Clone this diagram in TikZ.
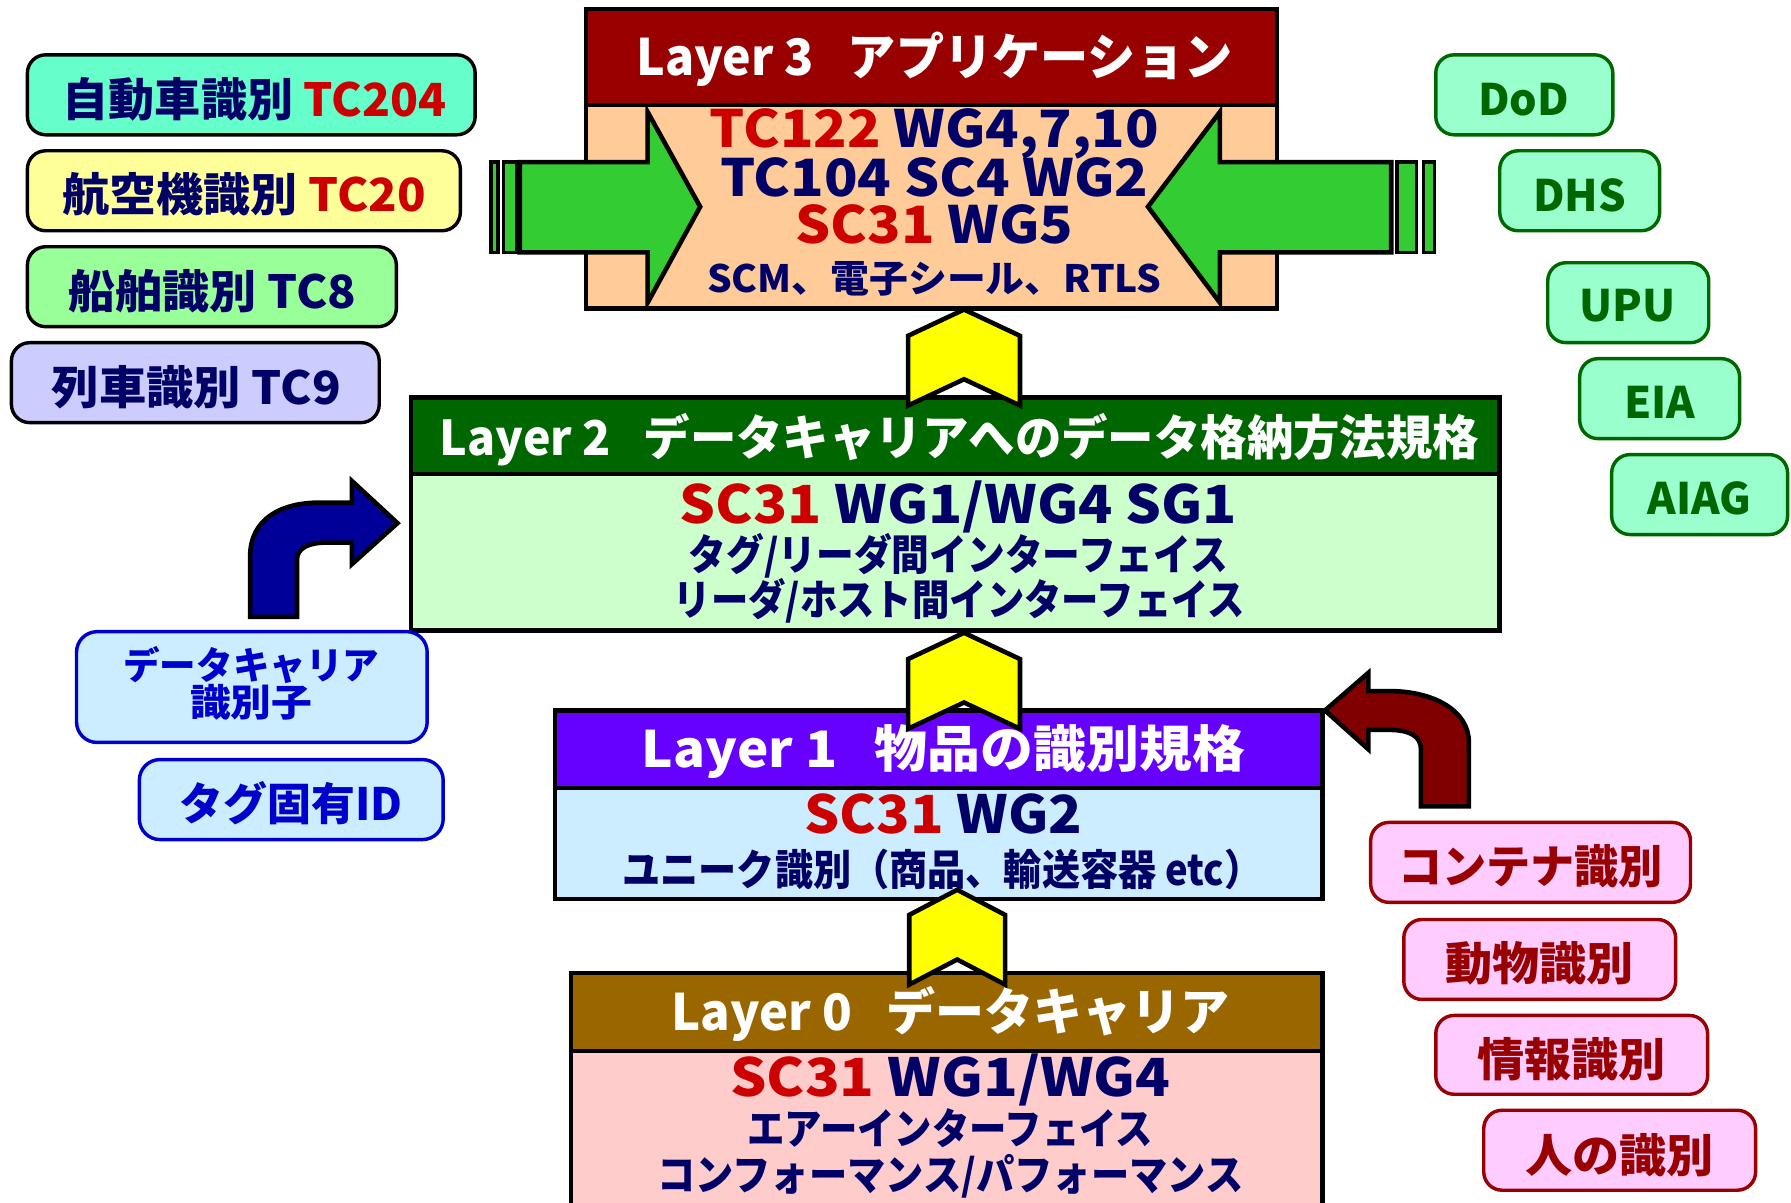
\documentclass[tikz,border=0pt]{standalone}
\usepackage{fontspec}
\setmainfont{Noto Sans CJK JP}
\usepackage{graphicx}
\definecolor{navy}{HTML}{000066}
\definecolor{tcred}{HTML}{CC0000}
\definecolor{hthree}{HTML}{990000}
\definecolor{bthree}{HTML}{FFCC99}
\definecolor{htwo}{HTML}{006600}
\definecolor{btwo}{HTML}{CCFFCC}
\definecolor{hone}{HTML}{6600FF}
\definecolor{bone}{HTML}{CCECFF}
\definecolor{hzero}{HTML}{996600}
\definecolor{bzero}{HTML}{FFCCCC}
\definecolor{agreen}{HTML}{33CC33}
\definecolor{ayellow}{HTML}{FFFF00}
\definecolor{ablue}{HTML}{000099}
\definecolor{ared}{HTML}{800000}
\definecolor{cA}{HTML}{66FFCC}
\definecolor{cB}{HTML}{FFFF99}
\definecolor{cC}{HTML}{99FF99}
\definecolor{cD}{HTML}{CCCCFF}
\definecolor{orgfill}{HTML}{99FFCC}
\definecolor{orgline}{HTML}{006600}
\definecolor{idblue}{HTML}{0000CC}
\definecolor{pinkfill}{HTML}{FFCCFF}
\definecolor{pinkline}{HTML}{990000}
\newcommand\fitw[3]{\resizebox{#1pt}{\height}{\fontsize{#2pt}{#2pt}\selectfont\bfseries #3}}
\newcommand\rd[1]{\textcolor{tcred}{#1}}
\begin{document}
\begin{tikzpicture}[x=1pt,y=-1pt,
  txt/.style={inner sep=0pt,text=navy},
  btxt/.style={inner sep=0pt,text=navy,anchor=base},
  wtxt/.style={inner sep=0pt,text=white},
  frame/.style={line width=4pt},
  divider/.style={line width=3pt},
  chev/.style={fill=ayellow,draw=black,line width=4pt,line join=miter},
  garrow/.style={fill=agreen,draw=black,line width=4pt,line join=miter},
  tcbox/.style={draw=black,line width=3pt,rounded corners=16pt},
  orgbox/.style={draw=orgline,fill=orgfill,line width=3pt,rounded corners=16pt},
  idbox/.style={draw=idblue,fill=bone,line width=3pt,rounded corners=18pt},
  pinkbox/.style={draw=pinkline,fill=pinkfill,line width=3pt,rounded corners=16pt},
  bent/.style={draw=black,line width=4pt,line join=miter}]
\useasboundingbox (0,0) rectangle (1568,1053);
\fill[white] (0,0) rectangle (1568,1053);

% ---------- Layer 3
\fill[hthree] (513,8) rectangle (1118,92);
\fill[bthree] (513,92) rectangle (1118,270);
\draw[divider] (513,92) -- (1118,92);
\draw[frame] (513,8) rectangle (1118,270);
% green arrows
\draw[garrow] (455,142) -- (567,142) -- (567,98) -- (613,181) -- (567,265) -- (567,221) -- (455,221) -- cycle;
\draw[garrow,line width=3pt] (441,142) rectangle (452,221);
\draw[garrow,line width=3pt] (430,142) rectangle (436,221);
\draw[garrow] (1218,142) -- (1068,142) -- (1068,98) -- (1005,181) -- (1068,265) -- (1068,221) -- (1218,221) -- cycle;
\draw[garrow,line width=3pt] (1223,142) rectangle (1240,221);
\draw[garrow,line width=3pt] (1246,142) rectangle (1256,221);
\node[wtxt] (l3h) at (818,52) {\fitw{522}{44}{Layer 3\hspace{0.7em}アプリケーション}};
\node[btxt] (l3a) at (818,129) {\fitw{393}{45}{\rd{TC122} WG4,7,10}};
\node[btxt] (l3b) at (818,172) {\fitw{375}{45}{TC104 SC4 WG2}};
\node[btxt] (l3c) at (818,213) {\fitw{243}{45}{\rd{SC31} WG5}};
\node[txt] (l3d) at (818,244) {\fitw{398}{33}{SCM、電子シール、RTLS}};

% ---------- Layer 2
\fill[htwo] (360,348) rectangle (1313,415);
\fill[btwo] (360,415) rectangle (1313,552);
\draw[divider] (360,415) -- (1313,415);
\draw[frame] (360,348) rectangle (1313,552);
\node[wtxt] (l2h) at (840,385) {\fitw{910}{42}{Layer 2\hspace{0.7em}データキャリアへのデータ格納方法規格}};
\node[btxt] (l2a) at (839,458) {\fitw{488}{46}{\rd{SC31} WG1/WG4 SG1}};
\node[txt] (l2b) at (839,487) {\fitw{472}{37}{タグ/リーダ間インターフェイス}};
\node[txt] (l2c) at (840,526) {\fitw{500}{37}{リーダ/ホスト間インターフェイス}};

% ---------- Layer 1
\fill[hone] (486,622) rectangle (1158,690);
\fill[bone] (486,690) rectangle (1158,787);
\draw[divider] (486,690) -- (1158,690);
\draw[frame] (486,622) rectangle (1158,787);
\node[wtxt] (l1h) at (826,658) {\fitw{528}{44}{Layer 1\hspace{0.7em}物品の識別規格}};
\node[btxt] (l1a) at (826,730) {\fitw{243}{46}{\rd{SC31} WG2}};
\node[txt] (l1b) at (825,761) {\fitw{560}{37}{ユニーク識別（商品、輸送容器 etc）}};

% ---------- Layer 0
\fill[hzero] (500,852) rectangle (1158,920);
\fill[bzero] (500,920) rectangle (1158,1070);
\draw[divider] (500,920) -- (1158,920);
\draw[frame] (500,852) -- (500,1070) (1158,852) -- (1158,1070) (498,852) -- (1160,852);
\node[wtxt] (l0h) at (832,888) {\fitw{489}{44}{Layer 0\hspace{0.7em}データキャリア}};
\node[btxt] (l0a) at (832,960) {\fitw{385}{46}{\rd{SC31} WG1/WG4}};
\node[txt] (l0b) at (832,988) {\fitw{355}{37}{エアーインターフェイス}};
\node[txt] (l0c) at (832,1030) {\fitw{513}{37}{コンフォーマンス/パフォーマンス}};

% ---------- chevrons
\draw[chev] (795,294) -- (844,271) -- (893,294) -- (893,355) -- (844,332) -- (795,355) -- cycle;
\draw[chev] (795,577) -- (844,554) -- (893,577) -- (893,638) -- (844,615) -- (795,638) -- cycle;
\draw[chev] (796,801) -- (838,779) -- (880,801) -- (880,862) -- (838,840) -- (796,862) -- cycle;

% ---------- left TC boxes
\draw[tcbox,fill=cA] (24,48) rectangle (416,118);
\node[txt] (tcA) at (223,87) {\fitw{336}{40}{自動車識別 \rd{TC204}}};
\draw[tcbox,fill=cB] (24,132) rectangle (403,202);
\node[txt] (tcB) at (214,170) {\fitw{318}{40}{航空機識別 \rd{TC20}}};
\draw[tcbox,fill=cC] (24,216) rectangle (347,286);
\node[txt] (tcC) at (186,255) {\fitw{252}{40}{船舶識別 TC8}};
\draw[tcbox,fill=cD] (10,300) rectangle (332,370);
\node[txt] (tcD) at (172,339) {\fitw{253}{40}{列車識別 TC9}};

% ---------- right organisation boxes
\draw[orgbox] (1257,48) rectangle (1412,118);
\node[inner sep=0pt,text=orgline,font=\fontsize{38pt}{38pt}\selectfont\bfseries] (dod) at (1334,87) {DoD};
\draw[orgbox] (1313,132) rectangle (1453,202);
\node[inner sep=0pt,text=orgline,font=\fontsize{38pt}{38pt}\selectfont\bfseries] (dhs) at (1383,171) {DHS};
\draw[orgbox] (1355,230) rectangle (1496,300);
\node[inner sep=0pt,text=orgline,font=\fontsize{38pt}{38pt}\selectfont\bfseries] (upu) at (1425,268) {UPU};
\draw[orgbox] (1383,314) rectangle (1523,384);
\node[inner sep=0pt,text=orgline,font=\fontsize{38pt}{38pt}\selectfont\bfseries] (eia) at (1453,352) {EIA};
\draw[orgbox] (1411,398) rectangle (1565,468);
\node[inner sep=0pt,text=orgline,font=\fontsize{38pt}{38pt}\selectfont\bfseries] (aiag) at (1488,436) {AIAG};

% ---------- blue bent arrow and id boxes
\draw[bent,fill=ablue] (219,540) -- (219,487) .. controls (219,455) and (245,440) .. (280,440) -- (308,440) -- (308,421) -- (348,458) -- (308,494) -- (308,475) -- (286,475) .. controls (270,475) and (260,480) .. (260,490) -- (260,540) -- cycle;
\draw[idbox] (67,553) rectangle (374,650);
\node[inner sep=0pt,text=idblue] (dcid) at (220,582) {\fitw{224}{33}{データキャリア}};
\node[inner sep=0pt,text=idblue] (dcid2) at (220,615) {\fitw{107}{33}{識別子}};
\draw[idbox] (122,665) rectangle (388,735);
\node[inner sep=0pt,text=idblue] (tagid) at (255,703) {\fitw{195}{39}{タグ固有ID}};

% ---------- dark red bent arrow and pink boxes
\draw[bent,fill=ared] (1286,706) -- (1286,650) .. controls (1286,622) and (1255,605) .. (1216,605) -- (1198,605) -- (1198,589) -- (1160,622) -- (1198,656) -- (1198,639) -- (1216,639) .. controls (1235,639) and (1244,645) .. (1244,656) -- (1244,706) -- cycle;
\draw[pinkbox] (1200,720) rectangle (1480,790);
\node[inner sep=0pt,text=pinkline] (cont) at (1340,758) {\fitw{232}{40}{コンテナ識別}};
\draw[pinkbox] (1229,805) rectangle (1467,875);
\node[inner sep=0pt,text=pinkline] (anim) at (1348,843) {\fitw{165}{40}{動物識別}};
\draw[pinkbox] (1257,889) rectangle (1495,958);
\node[inner sep=0pt,text=pinkline] (info) at (1376,927) {\fitw{165}{40}{情報識別}};
\draw[pinkbox] (1299,972) rectangle (1537,1042);
\node[inner sep=0pt,text=pinkline] (pers) at (1418,1011) {\fitw{165}{40}{人の識別}};
\end{tikzpicture}
\end{document}
